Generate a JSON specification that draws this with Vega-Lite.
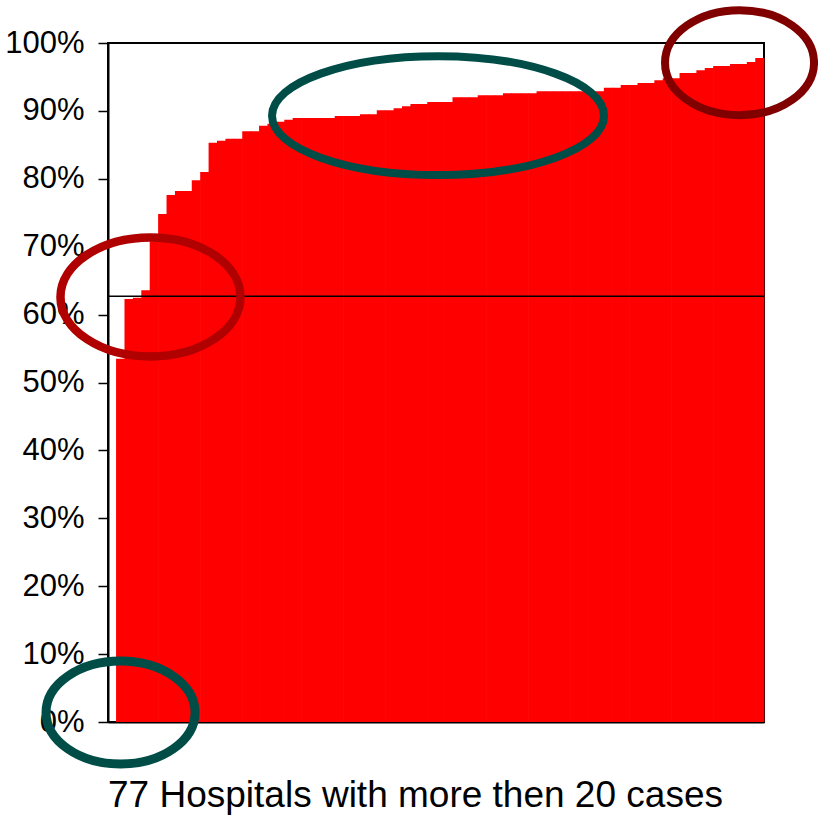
{
  "$schema": "https://vega.github.io/schema/vega-lite/v6.json",
  "width": 656,
  "height": 679,
  "autosize": {"type": "none"},
  "padding": {"left": 108, "top": 43, "right": 54, "bottom": 100},
  "background": "white",
  "config": {
    "font": "Liberation Sans",
    "view": {"stroke": "black", "strokeWidth": 2}
  },
  "datasets": {
    "hospitals": [
      {"hospital": 1, "rate": 0.535}, {"hospital": 2, "rate": 0.623}, {"hospital": 3, "rate": 0.625},
      {"hospital": 4, "rate": 0.636}, {"hospital": 5, "rate": 0.708}, {"hospital": 6, "rate": 0.748},
      {"hospital": 7, "rate": 0.776}, {"hospital": 8, "rate": 0.782}, {"hospital": 9, "rate": 0.782},
      {"hospital": 10, "rate": 0.798}, {"hospital": 11, "rate": 0.81}, {"hospital": 12, "rate": 0.853},
      {"hospital": 13, "rate": 0.856}, {"hospital": 14, "rate": 0.859}, {"hospital": 15, "rate": 0.859},
      {"hospital": 16, "rate": 0.87}, {"hospital": 17, "rate": 0.87}, {"hospital": 18, "rate": 0.878},
      {"hospital": 19, "rate": 0.881}, {"hospital": 20, "rate": 0.884}, {"hospital": 21, "rate": 0.887},
      {"hospital": 22, "rate": 0.8895}, {"hospital": 23, "rate": 0.8895}, {"hospital": 24, "rate": 0.8895},
      {"hospital": 25, "rate": 0.8895}, {"hospital": 26, "rate": 0.8895}, {"hospital": 27, "rate": 0.8925},
      {"hospital": 28, "rate": 0.8925}, {"hospital": 29, "rate": 0.8925}, {"hospital": 30, "rate": 0.895},
      {"hospital": 31, "rate": 0.895}, {"hospital": 32, "rate": 0.901}, {"hospital": 33, "rate": 0.901},
      {"hospital": 34, "rate": 0.904}, {"hospital": 35, "rate": 0.907}, {"hospital": 36, "rate": 0.91},
      {"hospital": 37, "rate": 0.91}, {"hospital": 38, "rate": 0.913}, {"hospital": 39, "rate": 0.913},
      {"hospital": 40, "rate": 0.913}, {"hospital": 41, "rate": 0.92}, {"hospital": 42, "rate": 0.92},
      {"hospital": 43, "rate": 0.92}, {"hospital": 44, "rate": 0.923}, {"hospital": 45, "rate": 0.923},
      {"hospital": 46, "rate": 0.923}, {"hospital": 47, "rate": 0.926}, {"hospital": 48, "rate": 0.926},
      {"hospital": 49, "rate": 0.926}, {"hospital": 50, "rate": 0.926}, {"hospital": 51, "rate": 0.929},
      {"hospital": 52, "rate": 0.929}, {"hospital": 53, "rate": 0.929}, {"hospital": 54, "rate": 0.929},
      {"hospital": 55, "rate": 0.929}, {"hospital": 56, "rate": 0.929}, {"hospital": 57, "rate": 0.929},
      {"hospital": 58, "rate": 0.929}, {"hospital": 59, "rate": 0.934}, {"hospital": 60, "rate": 0.934},
      {"hospital": 61, "rate": 0.938}, {"hospital": 62, "rate": 0.938}, {"hospital": 63, "rate": 0.941},
      {"hospital": 64, "rate": 0.941}, {"hospital": 65, "rate": 0.945}, {"hospital": 66, "rate": 0.948},
      {"hospital": 67, "rate": 0.948}, {"hospital": 68, "rate": 0.956}, {"hospital": 69, "rate": 0.956},
      {"hospital": 70, "rate": 0.96}, {"hospital": 71, "rate": 0.963}, {"hospital": 72, "rate": 0.966},
      {"hospital": 73, "rate": 0.966}, {"hospital": 74, "rate": 0.969}, {"hospital": 75, "rate": 0.969},
      {"hospital": 76, "rate": 0.972}, {"hospital": 77, "rate": 0.978}
    ],
    "benchmark": [{"rate": 0.627}],
    "rings": [
      {"ring": "plateau", "slot": 39.24, "level": 0.893},
      {"ring": "top", "slot": 75.09, "level": 0.971},
      {"ring": "threshold", "slot": 5.05, "level": 0.626},
      {"ring": "origin", "slot": 1.49, "level": 0.014}
    ]
  },
  "layer": [
    {
      "data": {"name": "hospitals"},
      "mark": {"type": "bar", "color": "#FF0000", "width": {"band": 1.08}},
      "encoding": {
        "x": {
          "field": "hospital",
          "type": "ordinal",
          "sort": null,
          "scale": {
            "domain": [0, 1, 2, 3, 4, 5, 6, 7, 8, 9, 10, 11, 12, 13, 14, 15, 16, 17, 18, 19, 20, 21, 22, 23, 24, 25, 26, 27, 28, 29, 30, 31, 32, 33, 34, 35, 36, 37, 38, 39, 40, 41, 42, 43, 44, 45, 46, 47, 48, 49, 50, 51, 52, 53, 54, 55, 56, 57, 58, 59, 60, 61, 62, 63, 64, 65, 66, 67, 68, 69, 70, 71, 72, 73, 74, 75, 76, 77],
            "paddingInner": 0,
            "paddingOuter": 0
          },
          "axis": {
            "labels": false,
            "ticks": false,
            "domainColor": "black",
            "domainWidth": 2,
            "title": "77 Hospitals with more then 20 cases",
            "titleFont": "Liberation Sans",
            "titleFontSize": 37,
            "titleFontWeight": "normal",
            "titleColor": "black",
            "titlePadding": 55,
            "titleX": 307,
            "titleAlign": "center"
          }
        },
        "y": {
          "field": "rate",
          "type": "quantitative",
          "scale": {"domain": [0, 1], "nice": false},
          "axis": {
            "values": [0, 0.1, 0.2, 0.3, 0.4, 0.5, 0.6, 0.7, 0.8, 0.9, 1],
            "format": ".0%",
            "grid": false,
            "title": null,
            "domainColor": "black",
            "domainWidth": 2,
            "tickColor": "black",
            "tickWidth": 1.5,
            "tickSize": 10,
            "labelFont": "Liberation Sans",
            "labelFontSize": 31,
            "labelColor": "black",
            "labelPadding": 14
          }
        }
      }
    },
    {
      "data": {"name": "benchmark"},
      "mark": {"type": "rule", "color": "black", "strokeWidth": 1.5},
      "encoding": {"y": {"field": "rate", "type": "quantitative"}}
    },
    {
      "data": {"name": "rings"},
      "transform": [{"filter": "datum.ring === 'plateau'"}],
      "mark": {
        "type": "point",
        "shape": "M 1 0 C 1 0.1977 0.5523 0.358 0 0.358 C -0.5523 0.358 -1 0.1977 -1 0 C -1 -0.1977 -0.5523 -0.358 0 -0.358 C 0.5523 -0.358 1 -0.1977 1 0 Z",
        "size": 110224,
        "filled": false,
        "stroke": "#004D48",
        "strokeWidth": 8,
        "opacity": 1
      },
      "encoding": {
        "x": {"field": "slot", "type": "quantitative", "scale": {"domain": [0, 78], "nice": false, "zero": false}, "axis": null},
        "y": {"field": "level", "type": "quantitative"}
      }
    },
    {
      "data": {"name": "rings"},
      "transform": [{"filter": "datum.ring === 'top'"}],
      "mark": {
        "type": "point",
        "shape": "M 1 0 C 1 0.3894 0.5523 0.705 0 0.705 C -0.5523 0.705 -1 0.3894 -1 0 C -1 -0.3894 -0.5523 -0.705 0 -0.705 C 0.5523 -0.705 1 -0.3894 1 0 Z",
        "size": 22201,
        "filled": false,
        "stroke": "#800000",
        "strokeWidth": 8,
        "opacity": 1
      },
      "encoding": {
        "x": {"field": "slot", "type": "quantitative", "scale": {"domain": [0, 78], "nice": false, "zero": false}, "axis": null},
        "y": {"field": "level", "type": "quantitative"}
      }
    },
    {
      "data": {"name": "rings"},
      "transform": [{"filter": "datum.ring === 'threshold'"}],
      "mark": {
        "type": "point",
        "shape": "M 1 0 C 1 0.3651 0.5523 0.661 0 0.661 C -0.5523 0.661 -1 0.3651 -1 0 C -1 -0.3651 -0.5523 -0.661 0 -0.661 C 0.5523 -0.661 1 -0.3651 1 0 Z",
        "size": 32400,
        "filled": false,
        "stroke": "#B00000",
        "strokeWidth": 8.5,
        "opacity": 1
      },
      "encoding": {
        "x": {"field": "slot", "type": "quantitative", "scale": {"domain": [0, 78], "nice": false, "zero": false}, "axis": null},
        "y": {"field": "level", "type": "quantitative"}
      }
    },
    {
      "data": {"name": "rings"},
      "transform": [{"filter": "datum.ring === 'origin'"}],
      "mark": {
        "type": "point",
        "shape": "M 1 0 C 1 0.3816 0.5523 0.691 0 0.691 C -0.5523 0.691 -1 0.3816 -1 0 C -1 -0.3816 -0.5523 -0.691 0 -0.691 C 0.5523 -0.691 1 -0.3816 1 0 Z",
        "size": 22201,
        "filled": false,
        "stroke": "#004D48",
        "strokeWidth": 9,
        "opacity": 1
      },
      "encoding": {
        "x": {"field": "slot", "type": "quantitative", "scale": {"domain": [0, 78], "nice": false, "zero": false}, "axis": null},
        "y": {"field": "level", "type": "quantitative"}
      }
    }
  ],
  "resolve": {"scale": {"x": "independent"}}
}
